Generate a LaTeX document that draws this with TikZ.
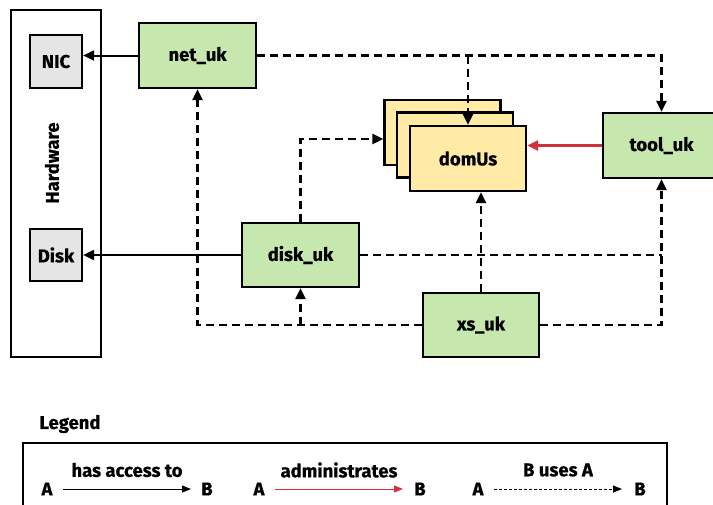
\documentclass[tikz,border=0pt]{standalone}
\usepackage{fontspec}
\setmainfont{Fira Sans}[BoldFeatures={FakeBold=0.6}]
\usetikzlibrary{arrows.meta,calc}
\definecolor{ukgreen}{RGB}{198,232,174}
\definecolor{domyellow}{RGB}{255,235,165}
\definecolor{hwgrey}{RGB}{229,229,229}
\definecolor{adminred}{RGB}{210,48,62}
\begin{document}
\begin{tikzpicture}[x=1pt,y=-1pt,
  font=\fontsize{18.5}{20}\selectfont\bfseries,
  box/.style={draw=black,line width=2.2pt,inner sep=0pt,align=center},
  uk/.style={box,fill=ukgreen,minimum width=117pt,minimum height=65pt},
  dom/.style={box,fill=domyellow,minimum width=116pt,minimum height=65pt},
  hw/.style={box,fill=hwgrey,minimum width=52pt,minimum height=52pt},
  access/.style={line width=2pt,-{Triangle[length=11pt,width=10pt]}},
  uses/.style={line width=2.5pt,dash pattern=on 8pt off 5pt,-{Triangle[length=11pt,width=10pt]}},
  usesline/.style={line width=2.5pt,dash pattern=on 8pt off 5pt},
  admin/.style={line width=2.5pt,draw=adminred,-{Triangle[length=11pt,width=10pt,fill=adminred]}},
]
\useasboundingbox (0,0) rectangle (713,504);
% Hardware
\node[draw=black,line width=2.2pt,minimum width=90pt,minimum height=347pt,inner sep=0pt] (hwbox) at (56,183.5) {};
\node[rotate=90] (hwlabel) at (52,163) {Hardware};
\node[hw,minimum height=53pt] (nic) at (56,61.5) {NIC};
\node[hw] (disk) at (56,255) {Disk};
% uks
\node[uk] (net) at (197.5,55.5) {net\_uk};
\node[uk,minimum height=64pt] (diskuk) at (300.5,255) {disk\_uk};
\node[uk,minimum width=116pt,minimum height=64pt] (xs) at (481,325) {xs\_uk};
\node[uk] (tool) at (661.5,145.5) {tool\_uk};
% domUs stack
\node[dom] (back) at (442.5,132.5) {};
\node[dom] (mid) at (455,145) {};
\node[dom] (front) at (468,158.5) {domUs};
% connectors
\draw[access] (net.west) -- (net.west -| nic.east);
\draw[access] (diskuk.west) -- (disk.east);
\draw[uses] (net.east) -| (tool.north);
\draw[uses] (net.east -| front.north) -- (front.north);
\draw[uses] (diskuk.north) |- ([yshift=-6.5pt]back.west);
\draw[uses] (xs.west) -| (net.south);
\draw[uses] (diskuk.south |- xs.west) -- (diskuk.south);
\draw[uses] (xs.north) -- (xs.north |- front.south);
\draw[uses] (xs.east) -| (tool.south);
\draw[usesline] (diskuk.east) -- (diskuk.east -| tool.south);
\draw[admin] (tool.west) -- (tool.west -| front.east);
% legend
\node[anchor=west] (legendtitle) at (36,424) {Legend};
\node[draw=black,line width=2.2pt,minimum width=644pt,minimum height=110pt,inner sep=0pt] (legendbox) at (345,498) {};
\node (a1) at (47,489) {A};
\node (b1) at (207,489) {B};
\draw[line width=1pt,-{Triangle[length=9pt,width=7pt]}] (63,489) coordinate (a1s) -- (191,489) coordinate (a1e);
\node (l1) at (127,470) {has access to};
\node (a2) at (259,489) {A};
\node (b2) at (420,489) {B};
\draw[line width=1pt,draw=adminred,-{Triangle[length=9pt,width=7pt,fill=adminred]}] (275,489) coordinate (a2s) -- (403,489) coordinate (a2e);
\node (l2) at (339,470) {administrates};
\node (a3) at (478,489) {A};
\node (b3) at (640,489) {B};
\draw[line width=1pt,dash pattern=on 3pt off 2pt,-{Triangle[length=9pt,width=7pt]}] (494,489) coordinate (a3s) -- (622,489) coordinate (a3e);
\node (l3) at (558,470) {B uses A};
\end{tikzpicture}
\end{document}
